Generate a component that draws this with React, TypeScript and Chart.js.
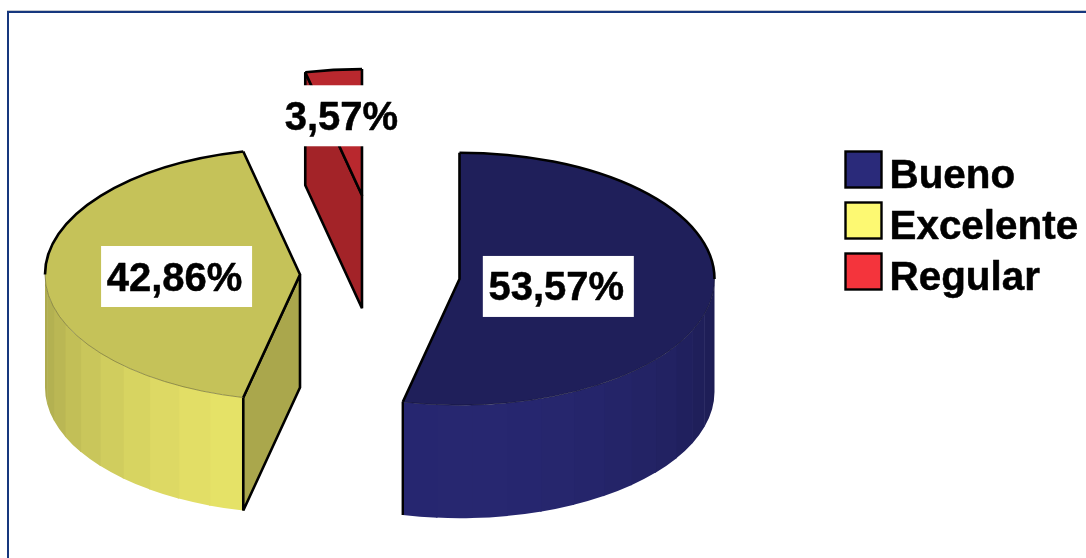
import React, { useEffect, useRef } from "react";
import { Chart, registerables } from "chart.js";

Chart.register(...registerables);

const categories = ["Bueno", "Excelente", "Regular"];
const percentages = [53.57, 42.86, 3.57];
const sliceColors = ["#2A2A7A", "#FDF972", "#F4343C"];
const topShades = [0.74, 0.78, 0.76];
const explodeDistances = [80, 80, 161];
const labelRadiusFractions = [0.39, 0.484, 0.65];

const WIDTH = 1086;
const HEIGHT = 558;
const TILT = 0.495; // vertical squash of the disc
const DEPTH = 113; // height of the extruded wall
const LEGEND_FONT = 'bold 40.4px "Liberation Sans", Arial, sans-serif';
const VALUE_FONT = 'bold 40px "Liberation Sans", Arial, sans-serif';

function shade(hex: string, factor: number): string {
  const n = parseInt(hex.slice(1), 16);
  const r = Math.round(((n >> 16) & 255) * factor);
  const g = Math.round(((n >> 8) & 255) * factor);
  const b = Math.round((n & 255) * factor);
  return `rgb(${r},${g},${b})`;
}

// Splits an angular range where it crosses the horizontal axis of the disc,
// so front-facing and back-facing parts can be treated separately.
function splitAtHalfTurns(start: number, end: number): Array<[number, number]> {
  const pieces: Array<[number, number]> = [];
  let from = start;
  let k = Math.floor(start / Math.PI + 1e-9) + 1;
  while (k * Math.PI < end - 1e-9) {
    pieces.push([from, k * Math.PI]);
    from = k * Math.PI;
    k += 1;
  }
  pieces.push([from, end]);
  return pieces;
}

// Solid black text with a faint outline for a heavier weight
function heavyText(ctx: CanvasRenderingContext2D, text: string, x: number, y: number) {
  ctx.fillStyle = "#000";
  ctx.strokeStyle = "#000";
  ctx.lineWidth = 0.5;
  ctx.lineJoin = "round";
  ctx.fillText(text, x, y);
  ctx.strokeText(text, x, y);
}

const pie3d = {
  id: "pie3d",
  // Moves each slice away from the pie centre along its mid angle.
  afterDatasetsUpdate(chart: any) {
    chart.getDatasetMeta(0).data.forEach((arc: any, i: number) => {
      const mid = (arc.startAngle + arc.endAngle) / 2;
      arc.x += Math.cos(mid) * explodeDistances[i];
      arc.y += Math.sin(mid) * explodeDistances[i];
    });
  },
  beforeDatasetsDraw(chart: any) {
    const { ctx, chartArea } = chart;
    const cy = (chartArea.top + chartArea.bottom) / 2;
    const py = (y: number) => cy + (y - cy) * TILT;

    chart.getDatasetMeta(0).data.forEach((arc: any, i: number) => {
      const base = sliceColors[i];
      const r = arc.outerRadius;
      const ax = arc.x;
      const ay = py(arc.y);
      const ry = r * TILT;
      ctx.save();

      // Curved outer wall, painted in narrow flat bands that overlap slightly
      splitAtHalfTurns(arc.startAngle, arc.endAngle).forEach(([a, b]) => {
        if (Math.sin((a + b) / 2) <= 0) return;
        const steps = Math.max(1, Math.ceil((b - a) / (Math.PI / 22)));
        for (let s = 0; s < steps; s++) {
          const t0 = a + ((b - a) * s) / steps;
          const t1 = Math.min(b, a + ((b - a) * (s + 1)) / steps + 0.006);
          const sm = Math.sin((t0 + t1) / 2);
          ctx.beginPath();
          ctx.ellipse(ax, ay, r, ry, 0, t0, t1);
          ctx.ellipse(ax, ay + DEPTH, r, ry, 0, t1, t0, true);
          ctx.closePath();
          ctx.fillStyle = shade(base, 0.68 + 0.24 * Math.pow(sm, 1.3));
          ctx.fill();
        }
        if (Math.abs(b - arc.endAngle) < 1e-9) {
          const ex = ax + Math.cos(b) * r;
          const ey = ay + Math.sin(b) * ry;
          ctx.beginPath();
          ctx.moveTo(ex, ey);
          ctx.lineTo(ex, ey + DEPTH);
          ctx.strokeStyle = "#000";
          ctx.lineWidth = 2.4;
          ctx.stroke();
        }
      });

      // Flat cut faces that turn toward the viewer
      const faces = [
        { angle: arc.startAngle, visible: -Math.cos(arc.startAngle) > 1e-6 },
        { angle: arc.endAngle, visible: Math.cos(arc.endAngle) > 1e-6 },
      ];
      faces.forEach(({ angle, visible }) => {
        if (!visible) return;
        const ex = ax + Math.cos(angle) * r;
        const ey = ay + Math.sin(angle) * ry;
        ctx.beginPath();
        ctx.moveTo(ax, ay);
        ctx.lineTo(ex, ey);
        ctx.lineTo(ex, ey + DEPTH);
        ctx.lineTo(ax, ay + DEPTH);
        ctx.closePath();
        ctx.fillStyle = shade(base, 0.67);
        ctx.strokeStyle = "#000";
        ctx.lineWidth = 2.6;
        ctx.lineJoin = "miter";
        ctx.miterLimit = 2;
        ctx.fill();
        ctx.stroke();
      });
      ctx.restore();
    });

    // The slice tops are drawn by the library inside this squashed space
    ctx.save();
    ctx.translate(0, cy);
    ctx.scale(1, TILT);
    ctx.translate(0, -cy);
  },
  afterDatasetsDraw(chart: any) {
    const { ctx, chartArea } = chart;
    ctx.restore();
    const cy = (chartArea.top + chartArea.bottom) / 2;
    const py = (y: number) => cy + (y - cy) * TILT;

    chart.getDatasetMeta(0).data.forEach((arc: any, i: number) => {
      const r = arc.outerRadius;
      const ax = arc.x;
      const ay = py(arc.y);
      const ry = r * TILT;
      ctx.save();

      // Back rim in heavy black, front rim as a hairline
      splitAtHalfTurns(arc.startAngle, arc.endAngle).forEach(([a, b]) => {
        const front = Math.sin((a + b) / 2) > 0;
        ctx.beginPath();
        ctx.ellipse(ax, ay, r, ry, 0, a, b);
        ctx.strokeStyle = front ? shade(sliceColors[i], 0.45) : "#000";
        ctx.lineWidth = front ? 0.7 : 2.6;
        ctx.stroke();
      });

      // Two radial edges of the top
      ctx.beginPath();
      ctx.moveTo(ax + Math.cos(arc.startAngle) * r, ay + Math.sin(arc.startAngle) * ry);
      ctx.lineTo(ax, ay);
      ctx.lineTo(ax + Math.cos(arc.endAngle) * r, ay + Math.sin(arc.endAngle) * ry);
      ctx.strokeStyle = "#000";
      ctx.lineWidth = 2.6;
      ctx.lineJoin = "round";
      ctx.stroke();
      ctx.restore();
    });

    // Value labels on white plates
    chart.getDatasetMeta(0).data.forEach((arc: any, i: number) => {
      const mid = (arc.startAngle + arc.endAngle) / 2;
      const dist = arc.outerRadius * labelRadiusFractions[i];
      const lx = arc.x + Math.cos(mid) * dist;
      const ly = py(arc.y) + Math.sin(mid) * dist * TILT + 2;
      const text = percentages[i].toFixed(2).replace(".", ",") + "%";
      ctx.save();
      ctx.fillStyle = "#fff";
      ctx.fillRect(lx - 75.5, ly - 30.5, 151, 61);
      ctx.font = VALUE_FONT;
      ctx.textAlign = "center";
      ctx.textBaseline = "middle";
      heavyText(ctx, text, lx - 2, ly + 3);
      ctx.restore();
    });
  },
  afterDraw(chart: any) {
    const { ctx } = chart;
    ctx.save();

    // Legend at the right of the pie
    categories.forEach((name, i) => {
      const top = 151.5 + i * 51;
      ctx.fillStyle = sliceColors[i];
      ctx.strokeStyle = "#000";
      ctx.lineWidth = 2.4;
      ctx.lineJoin = "miter";
      ctx.fillRect(845.5, top, 36, 36);
      ctx.strokeRect(845.5, top, 36, 36);
      ctx.font = LEGEND_FONT;
      ctx.textAlign = "left";
      ctx.textBaseline = "middle";
      heavyText(ctx, name, 889.5, top + 25.5);
    });

    // Frame of the plot area, cut by the image at right and bottom
    ctx.fillStyle = "#C4C8CE";
    ctx.fillRect(7, 10, WIDTH - 7, 1);
    ctx.fillStyle = "#16377E";
    ctx.fillRect(7, 11, WIDTH - 7, 2);
    ctx.fillRect(7, 11, 2, HEIGHT - 11);
    ctx.restore();
  },
};

export default function App() {
  const canvasRef = useRef<HTMLCanvasElement>(null);

  useEffect(() => {
    const chart = new Chart(canvasRef.current as HTMLCanvasElement, {
      type: "pie",
      data: {
        labels: categories,
        datasets: [
          {
            data: percentages,
            backgroundColor: sliceColors.map((c, i) => shade(c, topShades[i])),
            borderWidth: 0,
            clip: false,
          } as any,
        ],
      },
      options: {
        animation: false,
        responsive: false,
        radius: 255,
        layout: { padding: { left: 0, top: 0, right: 326, bottom: 9 } },
        plugins: {
          legend: { display: false },
          title: { display: false },
          tooltip: { enabled: false },
        },
      } as any,
      plugins: [pie3d],
    });
    return () => chart.destroy();
  }, []);

  return (
    <div style={{ position: "absolute", left: 0, top: 0, width: WIDTH, height: HEIGHT, background: "#fff" }}>
      <canvas ref={canvasRef} width={WIDTH} height={HEIGHT} style={{ display: "block" }} />
    </div>
  );
}
